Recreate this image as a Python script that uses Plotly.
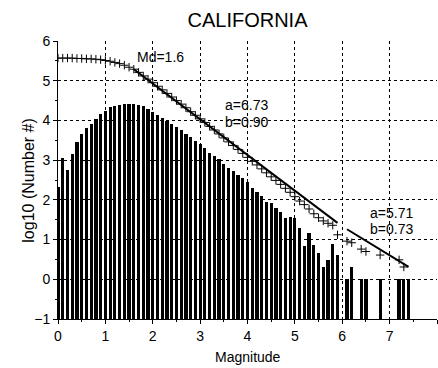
import plotly.graph_objects as go

# ---- data ----
bar_mag = [0.0, 0.1, 0.2, 0.3, 0.4, 0.5, 0.6, 0.7, 0.8, 0.9,
           1.0, 1.1, 1.2, 1.3, 1.4, 1.5, 1.6, 1.7, 1.8, 1.9,
           2.0, 2.1, 2.2, 2.3, 2.4, 2.5, 2.6, 2.7, 2.8, 2.9,
           3.0, 3.1, 3.2, 3.3, 3.4, 3.5, 3.6, 3.7, 3.8, 3.9,
           4.0, 4.1, 4.2, 4.3, 4.4, 4.5, 4.6, 4.7, 4.8, 4.9,
           5.0, 5.1, 5.2, 5.3, 5.4, 5.5, 5.6, 5.7, 5.8, 5.9,
           6.1, 6.2, 6.4, 6.5, 6.8, 7.2, 7.3, 7.4]
bar_log = [2.32, 3.06, 2.75, 3.15, 3.46, 3.65, 3.80, 3.92, 4.04, 4.16,
           4.25, 4.34, 4.37, 4.39, 4.41, 4.42, 4.42, 4.39, 4.36, 4.29,
           4.21, 4.13, 4.06, 3.99, 3.91, 3.83, 3.75, 3.67, 3.58, 3.49,
           3.40, 3.30, 3.18, 3.10, 3.02, 2.90, 2.81, 2.72, 2.62, 2.55,
           2.45, 2.30, 2.20, 2.09, 1.94, 1.92, 1.80, 1.70, 1.55, 1.57,
           1.55, 1.28, 0.83, 1.17, 0.86, 0.65, 0.31, 0.48, 0.90, 0.60,
           0.00, 0.30, 0.00, 0.00, 0.00, 0.00, 0.00, 0.00]

cum_mag = [0.0, 0.1, 0.2, 0.3, 0.4, 0.5, 0.6, 0.7, 0.8, 0.9,
           1.0, 1.1, 1.2, 1.3, 1.4, 1.5, 1.6, 1.7, 1.8, 1.9,
           2.0, 2.1, 2.2, 2.3, 2.4, 2.5, 2.6, 2.7, 2.8, 2.9,
           3.0, 3.1, 3.2, 3.3, 3.4, 3.5, 3.6, 3.7, 3.8, 3.9,
           4.0, 4.1, 4.2, 4.3, 4.4, 4.5, 4.6, 4.7, 4.8, 4.9,
           5.0, 5.1, 5.2, 5.3, 5.4, 5.5, 5.6, 5.7, 5.8, 5.9,
           6.1, 6.2, 6.4, 6.5, 6.8, 7.2, 7.3]
cum_log = [5.57, 5.57, 5.57, 5.57, 5.56, 5.56, 5.55, 5.55, 5.54, 5.53,
           5.51, 5.49, 5.46, 5.43, 5.39, 5.34, 5.29, 5.21, 5.12, 5.04,
           4.95, 4.86, 4.77, 4.68, 4.59, 4.50, 4.41, 4.32, 4.22, 4.13,
           4.04, 3.95, 3.85, 3.76, 3.66, 3.56, 3.46, 3.37, 3.27, 3.17,
           3.07, 2.97, 2.88, 2.78, 2.68, 2.58, 2.49, 2.39, 2.29, 2.19,
           2.08, 1.97, 1.88, 1.77, 1.65, 1.55, 1.47, 1.41, 1.36, 1.12,
           0.96, 0.92, 0.76, 0.70, 0.61, 0.49, 0.31]

fit1_mag = [1.6, 5.9]
fit1_log = [5.29, 1.42]
fit2_mag = [6.1, 7.4]
fit2_log = [1.26, 0.31]

x_ticks = [0, 1, 2, 3, 4, 5, 6, 7, 8]
y_ticks = [-1, 0, 1, 2, 3, 4, 5, 6]
BASE = -1

FONT = "Liberation Sans, Arial, Helvetica, sans-serif"

fig = go.Figure()
fig.add_trace(go.Bar(
    x=bar_mag, y=[v - BASE for v in bar_log], base=BASE,
    width=0.068, marker=dict(color="black", line=dict(width=0)),
    showlegend=False, hoverinfo="skip"))
fig.add_trace(go.Scatter(
    x=cum_mag, y=cum_log, mode="markers",
    marker=dict(symbol="cross-thin", size=6, color="black",
                line=dict(color="black", width=1)),
    showlegend=False))
fig.add_trace(go.Scatter(x=fit1_mag, y=fit1_log, mode="lines",
                         line=dict(color="black", width=2), showlegend=False))
fig.add_trace(go.Scatter(x=fit2_mag, y=fit2_log, mode="lines",
                         line=dict(color="black", width=2), showlegend=False))

ann = dict(showarrow=False, font=dict(family=FONT, size=14, color="black"),
           xref="x", yref="y", xanchor="left", yanchor="middle")
fig.add_annotation(x=1.63, y=5.6, text="Md=1.6", **ann)
fig.add_annotation(x=3.49, y=4.39, text="a=6.73", **ann)
fig.add_annotation(x=3.49, y=3.96, text="b=0.90", **ann)
fig.add_annotation(x=6.55, y=1.67, text="a=5.71", **ann)
fig.add_annotation(x=6.55, y=1.27, text="b=0.73", **ann)

# axis titles
fig.add_annotation(x=4, xref="x", y=-0.137, yref="paper", text="Magnitude",
                   showarrow=False, xanchor="center", yanchor="middle",
                   font=dict(family=FONT, size=14, color="black"))
fig.add_annotation(x=-0.08, xref="paper", y=0.5, yref="paper",
                   text="log10 (Number #)", textangle=-90,
                   showarrow=False, xanchor="center", yanchor="middle",
                   font=dict(family=FONT, size=16, color="black"))

axis_common = dict(
    showline=True, linecolor="black", linewidth=1,
    ticks="outside", ticklen=4, tickwidth=1, tickcolor="black",
    showgrid=True, gridcolor="black", gridwidth=1, griddash="3px,3px",
    zeroline=False,
    tickfont=dict(family=FONT, size=14, color="black"),
    minor=dict(ticks="outside", ticklen=2, tickcolor="black", showgrid=False),
)

fig.update_layout(
    width=438, height=368,
    margin=dict(l=58, r=1, t=41, b=49),
    paper_bgcolor="white", plot_bgcolor="white",
    bargap=0,
    title=dict(text="CALIFORNIA", xref="paper", x=0.5, xanchor="center",
               y=0.945, yanchor="middle",
               font=dict(family=FONT, size=20, color="black")),
    xaxis=dict(range=[0, 8], tickvals=x_ticks, minor_dtick=0.5, **axis_common),
    yaxis=dict(range=[-1, 6], tickvals=y_ticks, minor_dtick=0.5, **axis_common),
)

fig.write_html("out.html")
